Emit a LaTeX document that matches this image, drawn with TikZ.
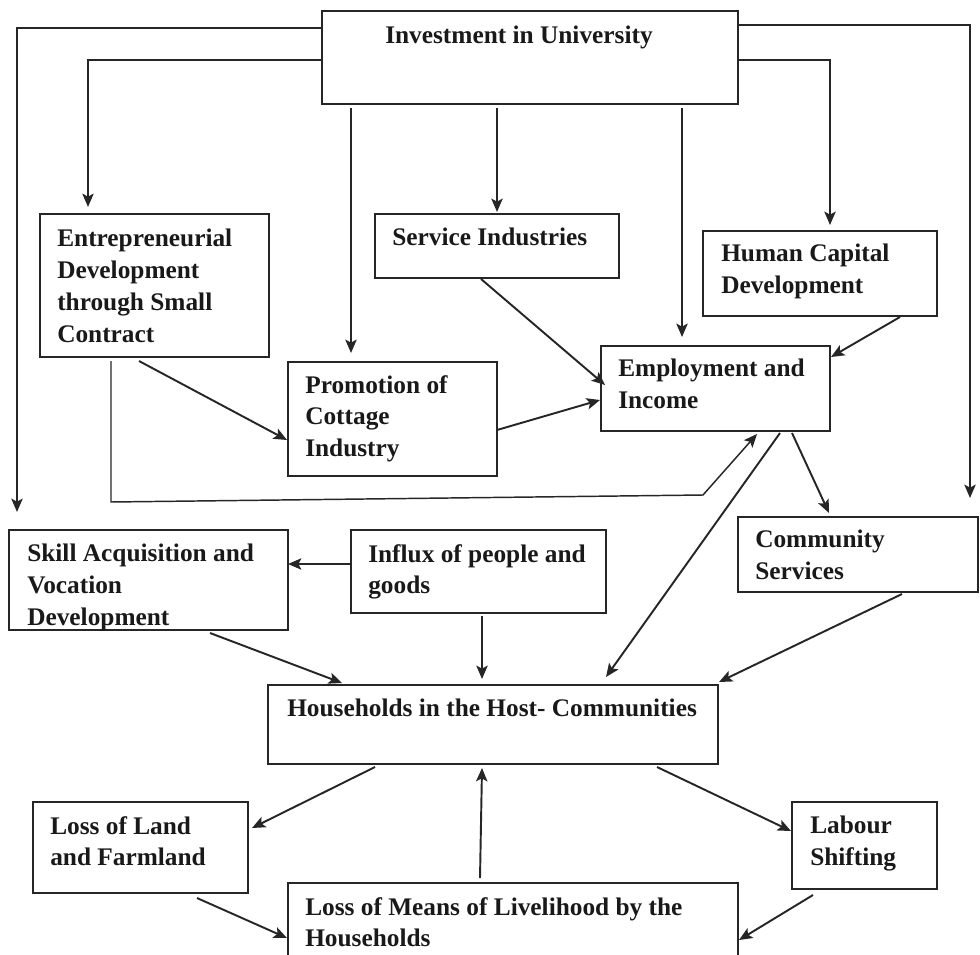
\documentclass[tikz,border=0pt]{standalone}
\usepackage{fontspec}
\setmainfont{Liberation Serif}
\usetikzlibrary{arrows.meta,calc}
\begin{document}
\begin{tikzpicture}[x=0.75pt,y=-0.75pt,
  box/.style={draw=black!85, line width=1.1pt, inner sep=0pt, outer sep=0pt, anchor=north west},
  lbl/.style={anchor=north west, inner sep=0pt, align=left, font=\bfseries\fontsize{19}{23.8}\selectfont, text=black!90},
  arr/.style={draw=black!85, line width=1.45pt, -{Stealth[length=10pt,width=8.5pt,inset=2.2pt]}},
  ln/.style={draw=black!85, line width=1.1pt}]
\useasboundingbox (0,0) rectangle (980,955);
% boxes
\node[box, minimum width=416*0.75pt, minimum height=93*0.75pt] (inv) at (322,11) {};
\node[box, minimum width=229*0.75pt, minimum height=143*0.75pt] (ent) at (40,214) {};
\node[box, minimum width=244*0.75pt, minimum height=64*0.75pt] (svc) at (375,214) {};
\node[box, minimum width=234*0.75pt, minimum height=85*0.75pt] (hum) at (703,231) {};
\node[box, minimum width=209*0.75pt, minimum height=114*0.75pt] (pro) at (288,362) {};
\node[box, minimum width=229*0.75pt, minimum height=85*0.75pt] (emp) at (601,346) {};
\node[box, minimum width=279*0.75pt, minimum height=100*0.75pt] (skl) at (9,530) {};
\node[box, minimum width=255*0.75pt, minimum height=83*0.75pt] (inf) at (351,530) {};
\node[box, minimum width=240*0.75pt, minimum height=75*0.75pt] (com) at (738,517) {};
\node[box, minimum width=450*0.75pt, minimum height=79*0.75pt] (hh) at (268,685) {};
\node[box, minimum width=215*0.75pt, minimum height=91*0.75pt] (lland) at (33,802) {};
\node[box, minimum width=145*0.75pt, minimum height=87*0.75pt] (lab) at (792,802) {};
\node[box, minimum width=450*0.75pt, minimum height=82*0.75pt] (lmeans) at (288,883) {};
% labels
\node[lbl] (invt) at (385,26) {Investment in University};
\node[lbl] (entt) at (57,229) {Entrepreneurial\\Development\\through Small\\Contract};
\node[lbl] (svct) at (392,228) {Service Industries};
\node[lbl] (humt) at (721,244) {Human Capital\\Development};
\node[lbl] (prot) at (305,375) {Promotion of\\Cottage\\Industry};
\node[lbl] (empt) at (618,359) {Employment and\\Income};
\node[lbl] (comt) at (755,530) {Community\\Services};
\node[lbl] (sklt) at (27,544) {Skill Acquisition and\\Vocation\\Development};
\node[lbl] (inft) at (368,544) {Influx of people and\\goods};
\node[lbl] (hht) at (287,699) {Households in the Host- Communities};
\node[lbl] (llandt) at (50,816) {Loss of Land\\and Farmland};
\node[lbl] (labt) at (810,816) {Labour\\Shifting};
\node[lbl] (lmeanst) at (305,897) {Loss of Means of Livelihood by the\\Households};
% connectors from Investment
\draw[arr] ($(inv.north west)+(0,17)$) -| ($(skl.north west)+(8,-18)$);
\draw[arr] ($(inv.north west)+(0,49)$) -| ($(ent.north west)+(48,-7)$);
\draw[arr] ($(inv.north west)+(29,97)$) -- ($(pro.north west)+(63,-9)$);
\draw[arr] ($(inv.north west)+(175,97)$) -- ($(svc.north west)+(122,-2)$);
\draw[arr] ($(inv.north west)+(360,97)$) -- ($(emp.north west)+(81,-9)$);
\draw[arr] ($(inv.north east)+(0,49)$) -| ($(hum.north west)+(127,-6)$);
\draw[arr] ($(inv.north east)+(0,14)$) -| ($(com.north west)+(232,-19)$);
% middle
\draw[arr] ($(ent.north west)+(99,147)$) -- ($(pro.north west)+(-1,78)$);
\coordinate (b1) at (111,502);
\coordinate (b2) at (703,495);
\draw[arr, line width=1.1pt] ($(ent.north west)+(71,147)$) -- (b1) -- (b2) -- ($(emp.north west)+(156,88)$);
\draw[arr] ($(svc.north west)+(106,65)$) -- ($(emp.north west)+(4,39)$);
\draw[arr] ($(hum.north west)+(197,86)$) -- ($(emp.north west)+(230,11)$);
\draw[arr] ($(pro.north west)+(209,68)$) -- ($(emp.north west)+(-1,54)$);
\draw[arr] ($(emp.north west)+(191,87)$) -- ($(com.north west)+(91,-4)$);
\draw[arr] ($(emp.north west)+(179,87)$) -- ($(hh.north west)+(338,-8)$);
\draw[arr] ($(inf.north west)+(1,34)$) -- ($(skl.north west)+(279,34)$);
\draw[arr] ($(inf.north west)+(131,86)$) -- ($(hh.north west)+(214,-6)$);
\draw[arr] ($(skl.north west)+(201,103)$) -- ($(hh.north west)+(74,-2)$);
\draw[arr] ($(com.north west)+(164,77)$) -- ($(hh.north west)+(451,-3)$);
% lower
\draw[arr] ($(hh.north west)+(107,82)$) -- ($(lland.north west)+(219,26)$);
\draw[arr] ($(hh.north west)+(389,82)$) -- ($(lab.north west)+(-1,29)$);
\draw[arr] ($(lmeans.north west)+(192,-5)$) -- ($(hh.north west)+(214,83)$);
\draw[arr] ($(lland.north west)+(164,96)$) -- ($(lmeans.north west)+(-1,55)$);
\draw[arr] ($(lab.north west)+(21,93)$) -- ($(lmeans.north west)+(451,57)$);
\end{tikzpicture}
\end{document}
